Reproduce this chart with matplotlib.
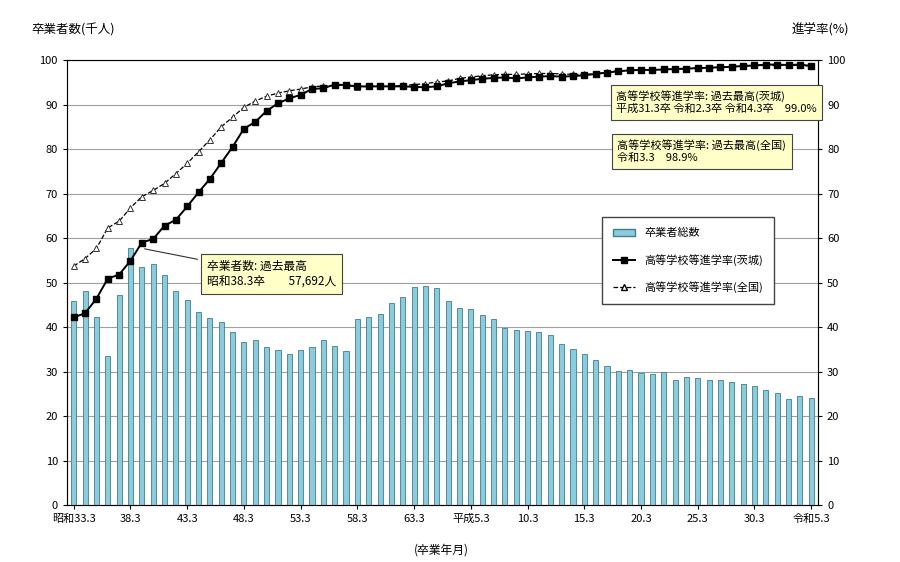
import matplotlib
matplotlib.use("Agg")
import matplotlib.pyplot as plt
from matplotlib.lines import Line2D
from matplotlib.patches import Patch

plt.rcParams["font.family"] = "Noto Sans CJK JP"

graduates = [45.8, 48.2, 42.2, 33.5, 47.2, 57.7, 53.4, 54.1, 51.8, 48.1, 46.1, 43.3, 42.0, 41.1,
             38.9, 36.6, 37.2, 35.5, 34.8, 33.9, 34.8, 35.5, 37.0, 35.8, 34.7, 41.7, 42.3, 42.9,
             45.4, 46.8, 49.0, 49.2, 48.7, 45.8, 44.3, 44.1, 42.8, 41.9, 39.8, 39.3, 39.1, 38.8,
             38.2, 36.3, 35.0, 34.0, 32.6, 31.2, 30.2, 30.3, 29.6, 29.4, 29.8, 28.1, 28.7, 28.5,
             28.0, 28.0, 27.7, 27.3, 26.7, 25.8, 25.1, 23.9, 24.4, 24.0]
rate_ibaraki = [42.2, 43.1, 46.4, 50.9, 51.8, 54.9, 59.0, 59.8, 62.8, 64.1, 67.1, 70.3, 73.3, 76.9,
                80.5, 84.6, 86.1, 88.6, 90.3, 91.4, 92.2, 93.5, 93.7, 94.5, 94.4, 94.1, 94.1, 94.1,
                94.1, 94.1, 94.0, 93.9, 94.1, 94.8, 95.2, 95.5, 95.8, 96.0, 96.1, 95.9, 96.1, 96.3,
                96.4, 96.3, 96.4, 96.6, 96.9, 97.2, 97.5, 97.7, 97.8, 97.8, 97.9, 98.0, 98.1, 98.2,
                98.3, 98.4, 98.5, 98.7, 98.8, 99.0, 99.0, 98.9, 99.0, 98.7]
rate_national = [53.7, 55.4, 57.7, 62.3, 63.8, 66.8, 69.3, 70.7, 72.3, 74.5, 76.8, 79.4, 82.1, 85.0,
                 87.2, 89.4, 90.8, 91.9, 92.6, 93.1, 93.5, 94.0, 94.2, 94.3, 94.3, 94.0, 94.1, 94.1,
                 94.1, 94.3, 94.5, 94.7, 95.1, 95.3, 95.9, 96.2, 96.5, 96.7, 96.8, 96.8, 96.9, 97.0,
                 97.0, 96.9, 96.8, 96.8, 96.9, 97.3, 97.6, 97.7, 97.8, 97.8, 97.9, 98.0, 98.1, 98.2,
                 98.3, 98.4, 98.5, 98.7, 98.8, 98.8, 98.8, 98.9, 98.8, 98.7]
tick_labels = ["昭和33.3", "38.3", "43.3", "48.3", "53.3", "58.3", "63.3", "平成5.3",
               "10.3", "15.3", "20.3", "25.3", "30.3", "令和5.3"]

x = list(range(len(graduates)))
fig = plt.figure(figsize=(9, 5.62), dpi=100)
ax = fig.add_axes([0.0744, 0.1014, 0.9089 - 0.0744, 0.893 - 0.1014])
ax.bar(x, graduates, width=0.45, color="#8ccbdb", edgecolor="#3f7f90", linewidth=0.6, zorder=2)
ax.set_ylim(0, 100)
ax.set_xlim(-0.6, len(x) - 0.4)
ax.set_yticks(range(0, 101, 10))
ax.grid(axis="y", color="#a0a0a0", linewidth=0.8, zorder=0)
ax.set_xticks(x[::5])
ax.set_xticklabels(tick_labels, fontsize=8)
ax.tick_params(axis="both", labelsize=8, length=3)
for s in ax.spines.values():
    s.set_color("#888888")

ax2 = ax.twinx()
ax2.set_ylim(0, 100)
ax2.set_yticks(range(0, 101, 10))
ax2.tick_params(labelsize=8, length=3)
ax2.plot(x, rate_national, "k--", lw=0.9, marker="^", mfc="white", mec="#333333", ms=5, mew=0.7, zorder=3)
ax2.plot(x, rate_ibaraki, "k-", lw=1.4, marker="s", ms=4.5, zorder=4)

fig.text(0.035, 0.94, "卒業者数(千人)", fontsize=9)
fig.text(0.88, 0.94, "進学率(%)", fontsize=9)
fig.text(0.49, 0.015, "(卒業年月)", fontsize=8.5, ha="center")

bbox = dict(boxstyle="square,pad=0.5", fc="#ffffc8", ec="#444444", lw=0.8)
ax.annotate("卒業者数: 過去最高\n昭和38.3卒　　57,692人", xy=(6, 57.7), xytext=(11.7, 49.5),
            fontsize=8.5, bbox=bbox, arrowprops=dict(arrowstyle="-", color="#333333", lw=0.8), zorder=6)
ax2.text(47.8, 90.5, "高等学校等進学率: 過去最高(茨城)\n平成31.3卒 令和2.3卒 令和4.3卒　99.0%",
         fontsize=8, bbox=bbox, zorder=6, va="center")
ax2.text(47.9, 79.5, "高等学校等進学率: 過去最高(全国)\n令和3.3　98.9%",
         fontsize=8, bbox=bbox, zorder=6, va="center")

handles = [Patch(fc="#8ccbdb", ec="#3f7f90"),
           Line2D([], [], color="k", marker="s", ms=4.5, lw=1.4),
           Line2D([], [], color="k", ls="--", marker="^", mfc="white", ms=5, lw=0.9)]
leg = ax2.legend(handles, ["卒業者総数", "高等学校等進学率(茨城)", "高等学校等進学率(全国)"],
                 loc="upper left", bbox_to_anchor=(0.705, 0.66), fontsize=8, fancybox=False,
                 edgecolor="#444444", labelspacing=1.4, borderpad=1.0, framealpha=1)
leg.set_zorder(7)
fig.savefig("out.png", dpi=100)
